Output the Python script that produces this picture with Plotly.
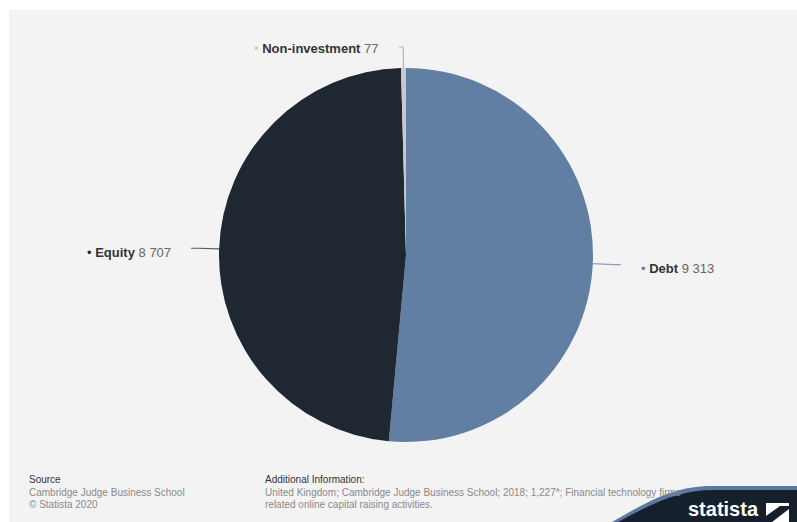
import math
import plotly.graph_objects as go

# Online alternative finance volume by model type, UK 2018 (million GBP)
categories = ["Debt", "Equity", "Non-investment"]
values = [9313, 8707, 77]
colors = ["#617ea3", "#1f2732", "#c9c9c9"]
line_colors = ["#8a9fbb", "#555b63", "#b5b5b5"]

W, H = 797, 522
CX, CY, R = 406, 255, 187  # pie centre and radius in pixels


def px(x):
    return x / W


def py(y):
    return 1 - y / H


fig = go.Figure(
    go.Pie(
        labels=categories,
        values=values,
        marker=dict(colors=colors, line=dict(width=0)),
        sort=False,
        direction="clockwise",
        rotation=0,
        textinfo="none",
        hoverinfo="label+value",
        showlegend=False,
        domain=dict(x=[px(CX - R), px(CX + R)], y=[py(CY + R), py(CY - R)]),
    )
)

shapes = [
    # grey panel
    dict(type="rect", xref="paper", yref="paper", x0=px(9), x1=1.0, y0=0, y1=py(10),
         fillcolor="#f3f3f3", line=dict(width=0), layer="below"),
]
annotations = []

total = sum(values)
cum = 0.0
for name, v, c, lc in zip(categories, values, colors, line_colors):
    mid = (cum + v / 2) / total * 2 * math.pi
    cum += v
    dx, dy = math.sin(mid), -math.cos(mid)
    ex, ey = CX + R * dx, CY + R * dy
    bx, by = CX + (R + 21) * dx, CY + (R + 21) * dy
    side = 1 if dx >= 0 else -1
    horizontal = abs(dx) > 0.2
    hx = bx + side * (7 if horizontal else 4)
    shapes.append(dict(type="path", xref="paper", yref="paper",
                       path=f"M {px(ex)},{py(ey)} L {px(bx)},{py(by)} L {px(hx)},{py(by)}",
                       line=dict(color=lc, width=1.2)))
    num = f"{v:,}".replace(",", " ")
    text = (f"<span style='color:{c}'>•</span> <b>{name}</b> "
            f"<span style='color:#666666'>{num}</span>")
    annotations.append(dict(
        x=px(hx + side * 18), y=py(by + (4 if horizontal else 1)), xref="paper", yref="paper",
        text=text, showarrow=False,
        xanchor="left" if side > 0 else "right", yanchor="middle",
        font=dict(family="Liberation Sans, Arial, sans-serif", size=13, color="#333333"),
    ))

# Footer texts
foot_font = dict(family="Liberation Sans Narrow, Liberation Sans, Arial, sans-serif", size=10)
annotations += [
    dict(x=px(27), y=py(479), text="Source", font=dict(**foot_font, color="#333333")),
    dict(x=px(27), y=py(492), text="Cambridge Judge Business School", font=dict(**foot_font, color="#8a8a8a")),
    dict(x=px(27), y=py(504), text="© Statista 2020", font=dict(**foot_font, color="#8a8a8a")),
    dict(x=px(263), y=py(479), text="Additional Information:", font=dict(**foot_font, color="#333333")),
    dict(x=px(263), y=py(492),
         text="United Kingdom; Cambridge Judge Business School; 2018; 1,227*; Financial technology firms",
         font=dict(**foot_font, color="#8a8a8a")),
    dict(x=px(263), y=py(504), text="related online capital raising activities.",
         font=dict(**foot_font, color="#8a8a8a")),
]
for a in annotations[-6:]:
    a.update(xref="paper", yref="paper", showarrow=False, xanchor="left", yanchor="middle")

# Statista badge
shapes += [
    dict(type="path", xref="paper", yref="paper", layer="above",
         path=(f"M {px(612)},{py(522)} C {px(650)},{py(500)} {px(675)},{py(486)} {px(712)},{py(486)} "
               f"L {px(797)},{py(486)} L {px(797)},{py(522)} Z"),
         fillcolor="#5b7aa1", line=dict(width=0)),
    dict(type="path", xref="paper", yref="paper", layer="above",
         path=(f"M {px(618)},{py(522)} C {px(655)},{py(502)} {px(680)},{py(490)} {px(714)},{py(490)} "
               f"L {px(797)},{py(490)} L {px(797)},{py(522)} Z"),
         fillcolor="#16202c", line=dict(width=0)),
    dict(type="rect", xref="paper", yref="paper", layer="above",
         x0=px(766), x1=px(789), y0=py(522), y1=py(503), fillcolor="white", line=dict(width=0)),
    dict(type="path", xref="paper", yref="paper", layer="above",
         path=(f"M {px(766)},{py(516)} L {px(780)},{py(506)} L {px(789)},{py(506)} L {px(789)},{py(509)} "
               f"L {px(772)},{py(522)} L {px(766)},{py(522)} Z"),
         fillcolor="#16202c", line=dict(width=0)),
]
annotations.append(dict(x=px(723), y=py(522), xref="paper", yref="paper", showarrow=False,
                        text="<b>statista</b>", xanchor="center", yanchor="bottom",
                        font=dict(family="Liberation Sans Narrow, Liberation Sans, Arial", size=20,
                                  color="white")))

fig.update_layout(
    width=W, height=H,
    margin=dict(l=0, r=0, t=0, b=0),
    paper_bgcolor="white",
    plot_bgcolor="white",
    shapes=shapes,
    annotations=annotations,
)

fig.write_html("out.html")
